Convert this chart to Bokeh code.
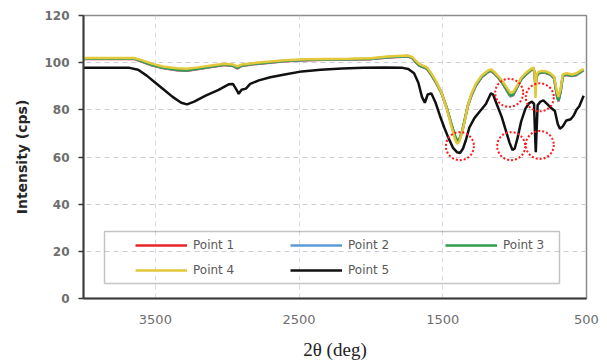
from bokeh.plotting import figure
from bokeh.models import (Range1d, FixedTicker, Legend, LegendItem, BoxAnnotation)
from bokeh.embed import file_html
from bokeh.resources import INLINE

# ---------------- data ----------------
x_pts = [4000, 3650, 3600, 3520, 3440, 3350, 3280, 3200, 3100, 3020, 2960, 2930, 2900, 2820, 2740,
         2600, 2450, 2300, 2150, 2000, 1900, 1820, 1740, 1710, 1690, 1665, 1640, 1610, 1580, 1550,
         1510, 1470, 1440, 1415, 1400, 1385, 1365, 1345, 1325, 1300, 1270, 1230, 1190, 1165, 1140,
         1110, 1080, 1050, 1030, 1010, 985, 955, 925, 895, 870, 862, 855, 848, 838, 810,
         780, 750, 725, 705, 695, 680, 665, 640, 600, 570, 545, 520]

point1 = [101.6, 101.6, 100.6, 98.8, 97.6, 96.8, 96.6, 97.3, 98.3, 99.0, 98.6, 97.6, 98.6, 99.3, 99.8,
          100.6, 101.0, 101.2, 101.3, 101.5, 102.1, 102.4, 102.6, 101.8, 100.3, 98.8, 98.1, 97.4, 94.8, 91.8,
          87.2, 80.2, 73.7, 68.7, 66.6, 67.2, 70.7, 76.2, 81.7, 86.2, 90.2, 93.8, 95.8, 96.6, 95.3,
          93.3, 90.8, 87.7, 85.7, 86.2, 89.2, 92.8, 94.8, 96.3, 97.6, 95.8, 90.0, 93.8, 95.3, 95.8,
          95.6, 94.8, 93.3, 85.7, 83.6, 87.7, 94.3, 94.8, 94.3, 94.8, 95.8, 96.8]

point2 = [101.7, 101.7, 100.7, 98.9, 97.7, 96.9, 96.7, 97.4, 98.4, 99.1, 98.7, 97.7, 98.7, 99.4, 99.9,
          100.7, 101.1, 101.3, 101.4, 101.6, 102.2, 102.5, 102.7, 101.9, 100.4, 98.9, 98.2, 97.5, 94.9, 91.9,
          87.3, 80.3, 73.8, 68.8, 66.8, 67.3, 70.8, 76.3, 81.8, 86.3, 90.3, 93.9, 95.9, 96.7, 95.4,
          93.4, 90.9, 87.8, 85.8, 86.3, 89.3, 92.9, 94.9, 96.4, 97.7, 95.9, 90.2, 93.9, 95.4, 95.9,
          95.7, 94.9, 93.4, 85.8, 83.8, 87.8, 94.4, 94.9, 94.4, 94.9, 95.9, 96.9]

point3 = [101.8, 101.8, 100.8, 99.0, 97.8, 97.0, 96.8, 97.5, 98.5, 99.2, 98.8, 97.8, 98.8, 99.5, 100.0,
          100.8, 101.2, 101.4, 101.5, 101.7, 102.3, 102.6, 102.8, 102.0, 100.5, 99.0, 98.3, 97.6, 95.0, 92.0,
          87.5, 80.5, 74.0, 69.0, 67.0, 67.5, 71.0, 76.5, 82.0, 86.5, 90.5, 94.0, 96.0, 96.8, 95.5,
          93.5, 91.0, 88.0, 86.0, 86.5, 89.5, 93.0, 95.0, 96.5, 97.8, 96.0, 90.5, 94.0, 95.5, 96.0,
          95.8, 95.0, 93.5, 86.0, 84.0, 88.0, 94.5, 95.0, 94.5, 95.0, 96.0, 97.0]

point4 = [102.0, 102.0, 101.2, 99.5, 98.3, 97.6, 97.4, 98.0, 98.9, 99.5, 99.2, 98.4, 99.2, 99.8, 100.3,
          101.0, 101.4, 101.6, 101.7, 101.9, 102.5, 102.8, 103.0, 102.3, 101.0, 99.5, 98.8, 98.0, 95.5, 92.5,
          87.5, 80.0, 73.0, 67.5, 65.5, 66.5, 70.5, 76.0, 82.0, 87.0, 91.0, 94.5, 96.5, 97.2, 96.0,
          94.0, 91.8, 89.0, 87.2, 87.5, 90.0, 93.5, 95.5, 97.0, 98.0, 96.5, 85.0, 94.5, 96.0, 96.5,
          96.3, 95.5, 94.0, 87.5, 85.5, 89.0, 95.0, 95.5, 95.0, 95.5, 96.5, 97.3]

x_p5 = [4000, 3680, 3620, 3560, 3500, 3440, 3380, 3320, 3280, 3230, 3150, 3060, 2990, 2960, 2935,
        2920, 2900, 2870, 2840, 2780, 2700, 2600, 2480, 2350, 2200, 2050, 1900, 1780, 1740, 1700,
        1670, 1645, 1625, 1605, 1580, 1550, 1520, 1490, 1460, 1430, 1400, 1380, 1360, 1340, 1315,
        1280, 1240, 1200, 1165, 1150, 1125, 1090, 1060, 1035, 1015, 1000, 980, 955, 925, 900,
        880, 865, 858, 853, 848, 840, 820, 800, 775, 750, 720, 700, 685, 665, 640,
        610, 590, 570, 550, 530, 520]
point5 = [97.8, 97.8, 97.0, 94.5, 91.5, 88.5, 85.5, 83.0, 82.3, 83.5, 86.0, 88.5, 90.8, 91.0, 88.5,
          86.8, 88.5, 89.0, 91.0, 92.5, 93.8, 95.0, 96.3, 97.0, 97.5, 97.8, 98.0, 97.8, 97.3, 95.5,
          91.5, 85.5, 83.0, 86.5, 87.0, 83.0, 77.5, 72.5, 68.0, 64.0, 62.0, 61.7, 63.5, 67.0, 72.5,
          76.5, 79.5, 82.5, 87.0, 86.5, 82.5, 77.0, 71.0, 66.0, 63.0, 63.5, 68.0, 75.0, 80.5, 82.8,
          83.5, 82.5, 70.0, 62.0, 70.0, 82.0, 83.5, 84.0, 82.5, 81.0, 79.5, 74.0, 72.0, 73.0, 75.5,
          76.0, 77.5, 80.0, 81.5, 84.5, 86.0]

# highlighted peaks (red dotted circles)
circle_x = [1381, 1038, 825, 1024, 825]
circle_y = [64.6, 87.2, 85.3, 64.6, 65.1]

series_names = ["Point 1", "Point 2", "Point 3", "Point 4", "Point 5"]
x_ticks = [3500, 2500, 1500, 500]
y_ticks = [0, 20, 40, 60, 80, 100, 120]

# ---------------- figure ----------------
p = figure(width=607, height=362, x_range=Range1d(4000, 500), y_range=Range1d(0, 120),
           output_backend="svg", toolbar_location=None,
           min_border_left=83, min_border_right=21, min_border_top=15, min_border_bottom=63)
p.background_fill_color = "white"
p.border_fill_color = "white"
p.outline_line_color = "#8c8c8c"
p.outline_line_width = 1.5

# grids
p.xgrid.ticker = FixedTicker(ticks=x_ticks[:-1])
p.ygrid.ticker = FixedTicker(ticks=y_ticks[1:-1])
p.xgrid.grid_line_color = "#d8d8e6"
p.xgrid.grid_line_dash = "5 4"
p.ygrid.grid_line_color = "#cdcdd6"
p.ygrid.grid_line_dash = "5 4"

# axes
p.xaxis.ticker = FixedTicker(ticks=x_ticks)
p.yaxis.ticker = FixedTicker(ticks=y_ticks)
for ax in (p.xaxis[0], p.yaxis[0]):
    ax.axis_line_color = "#3a3a3a"
    ax.axis_line_width = 2
    ax.minor_tick_line_color = None
    ax.major_label_text_color = "#6e6e6e"
    ax.major_label_text_font = "DejaVu Sans"

p.xaxis.major_tick_out = 0
p.xaxis.major_tick_in = 0
p.xaxis.major_label_text_font_size = "13px"
p.xaxis.major_label_standoff = 16
p.xaxis.axis_label = "2θ (deg)"
p.xaxis.axis_label_text_font = "Liberation Serif"
p.xaxis.axis_label_text_font_style = "normal"
p.xaxis.axis_label_text_font_size = "19px"
p.xaxis.axis_label_text_color = "#222222"
p.xaxis.axis_label_standoff = 12

p.yaxis.major_tick_out = 5
p.yaxis.major_tick_in = 0
p.yaxis.major_tick_line_color = "#3a3a3a"
p.yaxis.major_tick_line_width = 1.5
p.yaxis.major_label_text_font_size = "12px"
p.yaxis.major_label_text_font_style = "bold"
p.yaxis.major_label_standoff = 9
p.yaxis.axis_label = "Intensity (cps)"
p.yaxis.axis_label_text_font = "DejaVu Sans"
p.yaxis.axis_label_text_font_style = "bold"
p.yaxis.axis_label_text_font_size = "14px"
p.yaxis.axis_label_text_color = "#262626"
p.yaxis.axis_label_standoff = 11

# lines
colors = ["#e8262a", "#5b9bd5", "#2e9e4c", "#e2c83a", "#111111"]
ys = [point1, point2, point3, point4]
renderers = []
for name, y, c in zip(series_names[:4], ys, colors[:4]):
    r = p.line(x_pts, y, line_color=c, line_width=2.5)
    renderers.append(r)
r5 = p.line(x_p5, point5, line_color=colors[4], line_width=2.5)
renderers.append(r5)

# dotted red circles
p.scatter(circle_x, circle_y, marker="circle", size=28, fill_color=None,
          line_color="#ff1a1a", line_width=2, line_dash="2 2")

# legend (transparent, framed by a box)
legend = Legend(items=[LegendItem(label=n, renderers=[r]) for n, r in zip(series_names, renderers)],
                orientation="horizontal", ncols=3, location=(52, 18),
                padding=0, margin=0, spacing=5,
                glyph_width=52, glyph_height=20, label_height=20, label_width=92,
                label_standoff=6, label_text_font="DejaVu Sans", label_text_font_size="12px",
                label_text_color="#595959",
                background_fill_alpha=0, border_line_alpha=0)
p.add_layout(legend)

box = BoxAnnotation(left=21, right=476, bottom=15, top=67,
                    left_units="screen", right_units="screen",
                    bottom_units="screen", top_units="screen",
                    fill_alpha=0, line_color="#404040", line_width=1.5)
p.add_layout(box)

open("out.html", "w").write(file_html(p, INLINE))
